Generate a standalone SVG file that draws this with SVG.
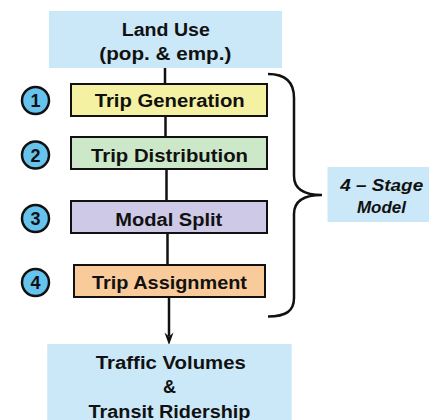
<svg xmlns="http://www.w3.org/2000/svg" width="429" height="420" viewBox="0 0 429 420">
  <style>
    .lbl { font-family: "Liberation Sans", Arial, sans-serif; font-weight: bold; font-size: 18px; fill: #111; text-anchor: middle; }
    .num { font-family: "Liberation Sans", Arial, sans-serif; font-weight: bold; font-size: 18px; fill: #111; text-anchor: middle; }
    .side { font-family: "Liberation Sans", Arial, sans-serif; font-weight: bold; font-style: italic; font-size: 16px; fill: #111; text-anchor: middle; }
    .stage { stroke: #111; stroke-width: 2; }
    .badge { fill: #66c3ee; stroke: #111; stroke-width: 2.5; }
    .ink { stroke: #111; stroke-width: 2.5; fill: none; }
    .sky { fill: #cbe8f8; }
  </style>

  <!-- connectors -->
  <g id="connectors">
    <line class="ink" x1="165" y1="68" x2="165" y2="84"/>
    <line class="ink" x1="165.5" y1="116" x2="165.5" y2="137"/>
    <line class="ink" x1="166.5" y1="169" x2="166.5" y2="201"/>
    <line class="ink" x1="167.5" y1="233" x2="167.5" y2="265"/>
    <line class="ink" x1="169" y1="297" x2="169" y2="336"/>
    <path d="M169,345 L164.5,332.5 L169,336.5 L173.5,332.5 Z" fill="#111"/>
    <!-- brace grouping the four stages -->
    <path class="ink" d="M268,74 C285,74 294,82 294,98 L294,176 C294,188 302,195 322,195 C302,195 294,202 294,214 L294,298 C294,311 286,316.5 268,316.5"/>
  </g>

  <g id="land-use">
    <rect class="sky" x="49" y="11" width="233" height="57"/>
    <text class="lbl" x="165.8" y="35.7" textLength="88" lengthAdjust="spacingAndGlyphs">Land Use</text>
    <text class="lbl" x="165.3" y="59.5" textLength="132" lengthAdjust="spacingAndGlyphs">(pop. &amp; emp.)</text>
  </g>

  <g id="trip-generation">
    <rect class="stage" x="71" y="84" width="196" height="32" fill="#f5f1a3"/>
    <text class="lbl" x="169.7" y="107.3" textLength="150" lengthAdjust="spacingAndGlyphs">Trip Generation</text>
  </g>

  <g id="trip-distribution">
    <rect class="stage" x="71" y="137" width="196" height="32" fill="#cde8c9"/>
    <text class="lbl" x="169.5" y="161.7" textLength="157" lengthAdjust="spacingAndGlyphs">Trip Distribution</text>
  </g>

  <g id="modal-split">
    <rect class="stage" x="71" y="201" width="196" height="32" fill="#cdc9e6"/>
    <text class="lbl" x="168.8" y="225.7" textLength="107" lengthAdjust="spacingAndGlyphs">Modal Split</text>
  </g>

  <g id="trip-assignment">
    <rect class="stage" x="74" y="265" width="191" height="32" fill="#f9cb9b"/>
    <text class="lbl" x="169.5" y="289.3" textLength="155" lengthAdjust="spacingAndGlyphs">Trip Assignment</text>
  </g>

  <g id="step-1">
    <circle class="badge" cx="35.5" cy="100.5" r="13.5"/>
    <text class="num" x="35.5" y="107">1</text>
  </g>
  <g id="step-2">
    <circle class="badge" cx="35.5" cy="155" r="13.5"/>
    <text class="num" x="35.5" y="161.5">2</text>
  </g>
  <g id="step-3">
    <circle class="badge" cx="35.5" cy="218.5" r="13.5"/>
    <text class="num" x="35.5" y="225">3</text>
  </g>
  <g id="step-4">
    <circle class="badge" cx="35.5" cy="282.5" r="13.5"/>
    <text class="num" x="35.5" y="289">4</text>
  </g>

  <g id="four-stage-model">
    <rect class="sky" x="327.5" y="167" width="101.5" height="55"/>
    <text class="side" x="381.7" y="190.7" textLength="83" lengthAdjust="spacingAndGlyphs">4 – Stage</text>
    <text class="side" x="381.4" y="213.3" textLength="49" lengthAdjust="spacingAndGlyphs">Model</text>
  </g>

  <g id="outputs">
    <rect class="sky" x="47.3" y="344" width="244.4" height="76"/>
    <text class="lbl" x="170.8" y="369.3" textLength="150" lengthAdjust="spacingAndGlyphs">Traffic Volumes</text>
    <text class="lbl" x="169.5" y="393.3">&amp;</text>
    <text class="lbl" x="169.5" y="418" textLength="162" lengthAdjust="spacingAndGlyphs">Transit Ridership</text>
  </g>
</svg>
